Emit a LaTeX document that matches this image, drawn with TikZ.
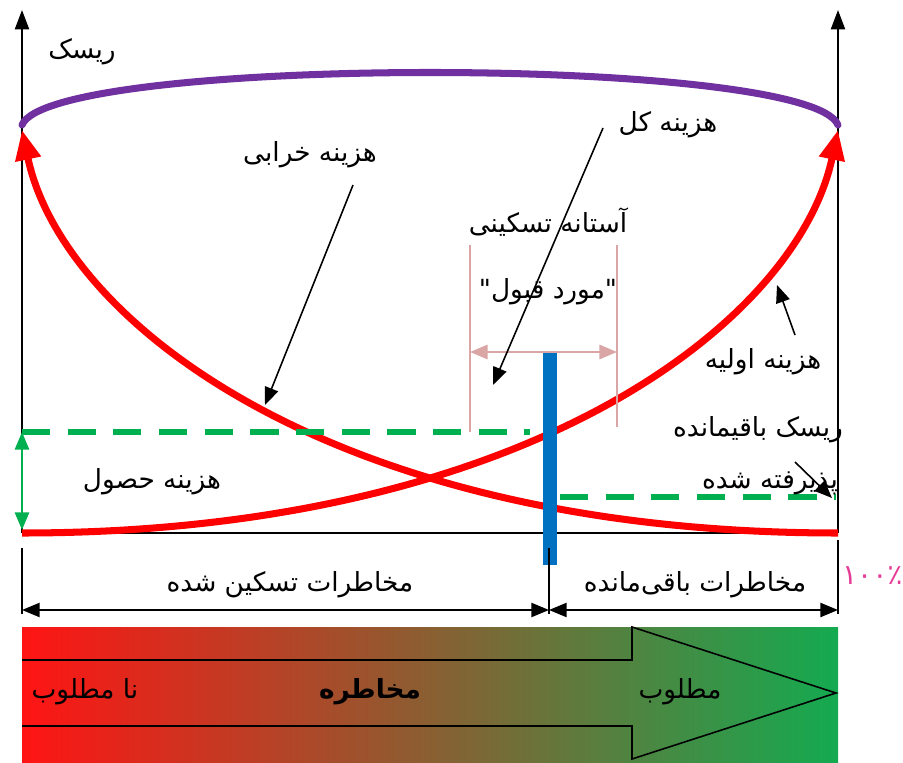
\documentclass[tikz,border=0pt]{standalone}
\usepackage{fontspec}
\newfontfamily\fa[Script=Arabic]{DejaVu Sans}
\TeXXeTstate=1
\usetikzlibrary{arrows.meta}
\definecolor{costred}{RGB}{255,0,0}
\definecolor{riskpurple}{RGB}{112,48,160}
\definecolor{safegreen}{RGB}{0,176,80}
\definecolor{barblue}{RGB}{0,112,192}
\definecolor{rangepink}{RGB}{218,165,165}
\definecolor{pctpink}{RGB}{230,60,150}
\definecolor{hazred}{RGB}{255,20,20}
\definecolor{hazmid}{RGB}{200,115,55}
\definecolor{hazgreen}{RGB}{20,170,80}

\begin{document}
\begin{tikzpicture}[
    x=0.02cm, y=-0.02cm,
    every node/.style={font=\fa\fontsize{15}{17}\selectfont, inner sep=1pt},
    axis/.style={line width=1.1pt, -{Triangle[length=11pt, width=8pt]}},
    dim/.style={line width=1.1pt, {Triangle[length=10pt, width=8pt]}-{Triangle[length=10pt, width=8pt]}},
    note/.style={line width=0.9pt, -{Triangle[length=10pt, width=8pt]}},
    cost/.style={draw=costred, line width=4pt, -{Triangle[length=17pt, width=14pt]}},
    level/.style={draw=safegreen, line width=3pt, dash pattern=on 16pt off 10pt}
]
\useasboundingbox (0,0) rectangle (903,763);

% Axes
\coordinate (o) at (22,533);
\coordinate (e) at (838,533);
\coordinate (otop) at (22,10);
\coordinate (etop) at (838,10);
\draw[axis] (o) -- (otop);
\draw[axis] (e) -- (etop);
\draw[line width=1.1pt] (o) -- (e);

% Curves
\coordinate (riskL) at (22,125);
\coordinate (riskR) at (838,125);
\coordinate (damageL) at (22,130);
\coordinate (initR) at (838,130);
\draw[riskpurple, line width=4pt, line cap=round] (riskL) .. controls (50,55) and (810,55) .. (riskR);
\draw[cost] (e) .. controls (330,533) and (62,320) .. (damageL);
\draw[cost] (o) .. controls (530,533) and (798,320) .. (initR);

% Levels and threshold
\draw[level] (22,432) -- (530,432);
\draw[level] (560,497) -- (836,497);
\coordinate (acqtop) at (22,432);
\coordinate (acqbot) at (22,530);
\draw[dim, safegreen, line width=1.4pt] (acqtop) -- (acqbot);
\coordinate (rangeL) at (470,352);
\coordinate (rangeR) at (617,352);
\draw[rangepink, line width=1.3pt] (470,245) -- (470,432);
\draw[rangepink, line width=1.3pt] (617,245) -- (617,427);
\draw[dim, rangepink, line width=1.6pt] (rangeL) -- (rangeR);
\fill[barblue] (543,353) rectangle (557,565);

% Labels
\node (risk) at (82,52) {\beginR ریسک\endR};
\node (damage) at (310,155) {\beginR هزینه خرابی\endR};
\node (total) at (668,125) {\beginR هزینه کل\endR};
\node (thresh) at (548,222) {\beginR آستانه تسکینی\endR};
\node (accepted) at (548,292) {\beginR "مورد قبول"\endR};
\node (init) at (763,362) {\beginR هزینه اولیه\endR};
\node (residual) at (758,430) {\beginR ریسک باقیمانده\endR};
\node (resaccepted) at (770,483) {\beginR پذیرفته شده\endR};
\node (acq) at (152,482) {\beginR هزینه حصول\endR};

% Pointers
\coordinate (damagetip) at (265,405);
\coordinate (totaltip) at (493,385);
\coordinate (inittip) at (777,285);
\coordinate (residualtip) at (832,498);
\draw[note] ([shift={(43,30)}]damage.center) -- (damagetip);
\draw[note] ([shift={(-65,3)}]total.center) -- (totaltip);
\draw[note] ([shift={(32,-27)}]init.center) -- (inittip);
\draw[note] ([shift={(37,32)}]residual.center) -- (residualtip);

% Ranges
\draw[line width=1.1pt] (22,548) -- (22,614);
\draw[line width=1.1pt] (838,540) -- (838,614);
\draw[line width=1.1pt] (549,548) -- (549,614);
\coordinate (mitL) at (22,610);
\coordinate (mitR) at (549,610);
\coordinate (remR) at (838,610);
\draw[dim] (mitL) -- (mitR);
\draw[dim] (mitR) -- (remR);
\node (mitigated) at (290,585) {\beginR مخاطرات تسکین شده\endR};
\node (remaining) at (695,585) {\beginR مخاطرات باقی‌مانده\endR};
\node (pct) [anchor=west, text=pctpink, font=\fa\fontsize{16}{18}\selectfont] at (840,576) {۱۰۰٪};

% Hazard bar
\shade[left color=hazred, middle color=hazmid, right color=hazgreen] (22,627) rectangle (838,763);
\draw[line width=0.9pt] (22,660) -- (632,660) -- (632,627) -- (836,693) -- (632,759) -- (632,726) -- (22,726);
\node (undesired) at (85,692) {\beginR نا مطلوب\endR};
\node (hazard) at (370,692) {\bfseries\beginR مخاطره\endR};
\node (desired) at (680,692) {\beginR مطلوب\endR};
\end{tikzpicture}
\end{document}
